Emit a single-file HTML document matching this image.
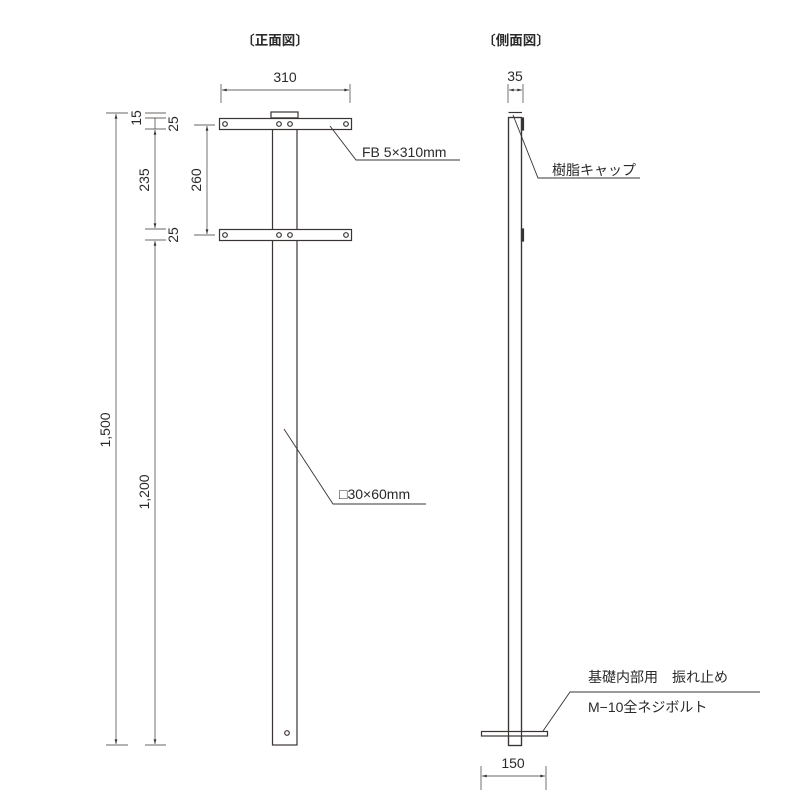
<!DOCTYPE html>
<html><head><meta charset="utf-8"><style>
html,body{margin:0;padding:0;background:#fff;width:800px;height:800px;overflow:hidden}
text{font-family:"Liberation Sans","Noto Sans CJK JP",sans-serif;fill:#2a2a2a}
</style></head><body>
<svg width="800" height="800" viewBox="0 0 800 800" xmlns="http://www.w3.org/2000/svg">
<defs>
<marker id="a" viewBox="0 0 10 6" refX="10" refY="3" markerWidth="7" markerHeight="4" orient="auto-start-reverse"><path d="M0,0L10,3L0,6z" fill="#333"/></marker>
</defs>
<text x="275" y="45" font-size="13.5" font-weight="bold" text-anchor="middle">〔正面図〕</text>
<text x="516" y="45" font-size="13.5" font-weight="bold" text-anchor="middle">〔側面図〕</text>
<g stroke="#3a3433" stroke-width="1.2" fill="none">
<!-- front view -->
<rect x="271" y="112" width="27" height="6" fill="#fff"/>
<rect x="272.5" y="118" width="24.5" height="627" fill="#fff"/>
<rect x="219.5" y="118.5" width="132" height="11" fill="#fff"/>
<rect x="219.5" y="229.5" width="132" height="11" fill="#fff"/>
<circle cx="225" cy="124" r="2.3"/><circle cx="279" cy="124" r="2.3"/><circle cx="290" cy="124" r="2.3"/><circle cx="346" cy="124" r="2.3"/>
<circle cx="225" cy="235" r="2.3"/><circle cx="279" cy="235" r="2.3"/><circle cx="290" cy="235" r="2.3"/><circle cx="346" cy="235" r="2.3"/>
<circle cx="287" cy="733" r="2.3"/>
<!-- dims -->
<line x1="221" y1="84" x2="221" y2="103" stroke-width="0.7"/><line x1="350" y1="84" x2="350" y2="103" stroke-width="0.7"/>
<line x1="222" y1="90" x2="349" y2="90" stroke-width="0.7" marker-start="url(#a)" marker-end="url(#a)"/>
<line x1="106" y1="113" x2="128" y2="113" stroke-width="0.7"/>
<line x1="145" y1="113" x2="166" y2="113" stroke-width="0.7"/>
<line x1="145" y1="118" x2="166" y2="118" stroke-width="0.7"/>
<line x1="145" y1="129" x2="166" y2="129" stroke-width="0.7"/>
<line x1="145" y1="229" x2="166" y2="229" stroke-width="0.7"/>
<line x1="145" y1="240" x2="166" y2="240" stroke-width="0.7"/>
<line x1="106" y1="745" x2="128" y2="745" stroke-width="0.7"/>
<line x1="145" y1="745" x2="166" y2="745" stroke-width="0.7"/>
<line x1="116" y1="114" x2="116" y2="744" stroke-width="0.7" marker-start="url(#a)" marker-end="url(#a)"/>
<line x1="155" y1="130" x2="155" y2="228" stroke-width="0.7" marker-start="url(#a)" marker-end="url(#a)"/>
<line x1="155" y1="241" x2="155" y2="744" stroke-width="0.7" marker-start="url(#a)" marker-end="url(#a)"/>
<line x1="155" y1="118" x2="155" y2="129" stroke-width="0.7"/>
<line x1="194" y1="125" x2="215" y2="125" stroke-width="0.7"/>
<line x1="194" y1="235" x2="215" y2="235" stroke-width="0.7"/>
<line x1="207" y1="126" x2="207" y2="234" stroke-width="0.7" marker-start="url(#a)" marker-end="url(#a)"/>
<polyline points="330,126 356,160 460,160" stroke-width="0.9"/>
<polyline points="284,429 333,504 426,504" stroke-width="0.9"/>
<!-- side view -->
<rect x="508.5" y="117.5" width="13" height="628" fill="#fff"/>
<line x1="508.5" y1="112.5" x2="522" y2="112.5"/>
<rect x="521.5" y="118" width="2" height="12" fill="#333"/>
<rect x="521.5" y="229" width="2" height="12" fill="#333"/>
<rect x="481.5" y="731.5" width="66" height="4.5" fill="#fff"/>
<rect x="508.5" y="117.5" width="13" height="628"/>
<line x1="508" y1="84" x2="508" y2="103" stroke-width="0.7"/><line x1="523" y1="84" x2="523" y2="103" stroke-width="0.7"/>
<line x1="509" y1="90" x2="522" y2="90" stroke-width="0.7" marker-start="url(#a)" marker-end="url(#a)"/>
<polyline points="513,115 538,178 640,178" stroke-width="0.9"/>
<polyline points="543,731 570,692 760,692" stroke-width="0.9"/>
<line x1="481" y1="766" x2="481" y2="790" stroke-width="0.7"/><line x1="546" y1="766" x2="546" y2="790" stroke-width="0.7"/>
<line x1="482" y1="776" x2="545" y2="776" stroke-width="0.7" marker-start="url(#a)" marker-end="url(#a)"/>
</g>
<g font-size="14">
<text x="285" y="82" text-anchor="middle">310</text>
<text x="515" y="81" text-anchor="middle">35</text>
<text x="513" y="768" text-anchor="middle">150</text>
<text x="362" y="157">FB 5×310mm</text>
<text x="339" y="499">□30×60mm</text>
<text x="552" y="175">樹脂キャップ</text>
<text x="588" y="682">基礎内部用　振れ止め</text>
<text x="588" y="712">M−10全ネジボルト</text>
<text transform="translate(141,118) rotate(-90)" text-anchor="middle">15</text>
<text transform="translate(178,124) rotate(-90)" text-anchor="middle">25</text>
<text transform="translate(149,180) rotate(-90)" text-anchor="middle">235</text>
<text transform="translate(178,235) rotate(-90)" text-anchor="middle">25</text>
<text transform="translate(201,180) rotate(-90)" text-anchor="middle">260</text>
<text transform="translate(110,430) rotate(-90)" text-anchor="middle">1,500</text>
<text transform="translate(149,492) rotate(-90)" text-anchor="middle">1,200</text>
</g>
</svg>
</body></html>
